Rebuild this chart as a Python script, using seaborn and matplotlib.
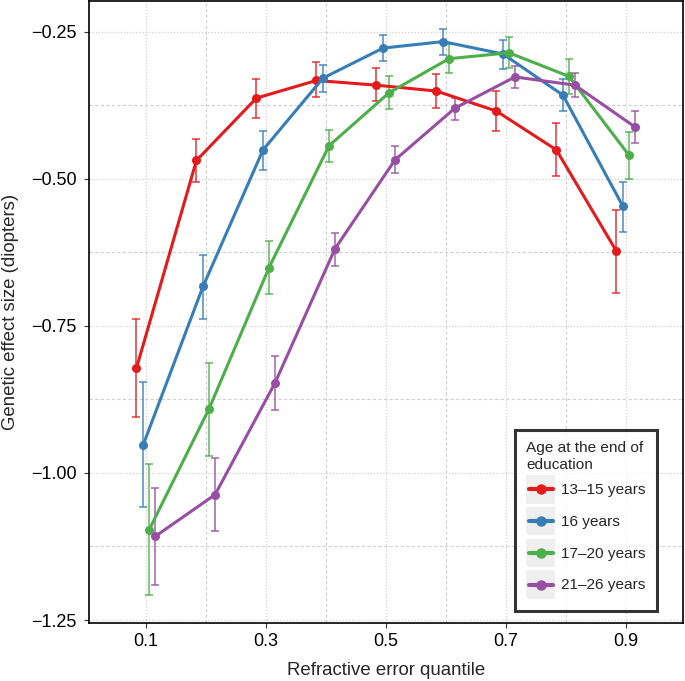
import numpy as np
import pandas as pd
import matplotlib
matplotlib.use('Agg')
import matplotlib.pyplot as plt
from matplotlib.ticker import FixedLocator
from matplotlib.patches import Rectangle
from matplotlib.lines import Line2D
from matplotlib.legend_handler import HandlerBase
import seaborn as sns

sns.set_style("white")
plt.rcParams['font.family'] = ['Liberation Sans', 'DejaVu Sans']

# %% data
quantiles = [0.1, 0.2, 0.3, 0.4, 0.5, 0.6, 0.7, 0.8, 0.9]
groups = ['13\u201315 years', '16 years', '17\u201320 years', '21\u201326 years']

eff_13_15 = [-0.822, -0.469, -0.363, -0.333, -0.341, -0.351, -0.385, -0.451, -0.623]
low_13_15 = [-0.905, -0.506, -0.397, -0.361, -0.368, -0.380, -0.419, -0.496, -0.694]
up_13_15 = [-0.738, -0.433, -0.330, -0.302, -0.312, -0.322, -0.351, -0.406, -0.553]

eff_16 = [-0.953, -0.683, -0.451, -0.329, -0.278, -0.267, -0.288, -0.358, -0.547]
low_16 = [-1.058, -0.738, -0.486, -0.352, -0.300, -0.290, -0.313, -0.385, -0.590]
up_16 = [-0.846, -0.630, -0.419, -0.307, -0.256, -0.245, -0.265, -0.330, -0.505]

eff_17_20 = [-1.097, -0.891, -0.651, -0.444, -0.354, -0.296, -0.286, -0.326, -0.460]
low_17_20 = [-1.208, -0.971, -0.696, -0.471, -0.381, -0.321, -0.312, -0.356, -0.500]
up_17_20 = [-0.985, -0.813, -0.606, -0.418, -0.325, -0.271, -0.259, -0.297, -0.420]

eff_21_26 = [-1.108, -1.037, -0.847, -0.619, -0.468, -0.380, -0.327, -0.341, -0.412]
low_21_26 = [-1.190, -1.099, -0.893, -0.649, -0.490, -0.400, -0.346, -0.361, -0.440]
up_21_26 = [-1.026, -0.975, -0.801, -0.592, -0.445, -0.363, -0.308, -0.320, -0.385]

colors = ['#E41A1C', '#377EB8', '#4DAF4A', '#984EA3']
dodge = [-0.016, -0.005, 0.005, 0.015]

# %% long table
effs = [eff_13_15, eff_16, eff_17_20, eff_21_26]
lows = [low_13_15, low_16, low_17_20, low_21_26]
ups = [up_13_15, up_16, up_17_20, up_21_26]
frames = []
for g, e, lo, hi, d in zip(groups, effs, lows, ups, dodge):
    frames.append(pd.DataFrame({'quantile': np.array(quantiles) + d,
                                'effect': e, 'low': lo, 'up': hi, 'group': g}))
df = pd.concat(frames, ignore_index=True)


# ggplot-like legend key: grey square, line and point centred in it
class KeyHandler(HandlerBase):
    def create_artists(self, legend, orig_handle, xdescent, ydescent,
                       width, height, fontsize, trans):
        c = orig_handle.get_color()
        x0, y0 = -xdescent, -ydescent
        yc = y0 + height / 2
        rect = Rectangle((x0, y0), width, height, facecolor='#efefef',
                         edgecolor='none', transform=trans)
        line = Line2D([x0 + 2, x0 + width - 2], [yc, yc], color=c,
                      linewidth=3, transform=trans)
        dot = Line2D([x0 + width / 2], [yc], marker='o', markersize=7.5,
                     markeredgewidth=0, color=c, linestyle='none',
                     transform=trans)
        return [rect, line, dot]


# %% plot
fig = plt.figure(figsize=(6.85, 6.81), dpi=100)
ax = fig.add_axes([0.130, 0.0852, 0.867, 0.9133])

for g, c in zip(groups, colors):
    sub = df[df['group'] == g]
    ax.errorbar(sub['quantile'], sub['effect'],
                yerr=[sub['effect'] - sub['low'], sub['up'] - sub['effect']],
                fmt='none', ecolor=c, alpha=0.75, elinewidth=1.3,
                capsize=3, capthick=1.3, zorder=2)

sns.lineplot(data=df, x='quantile', y='effect', hue='group',
             palette=colors, marker='o', markersize=6.5, markeredgewidth=0,
             linewidth=2.2, ax=ax, zorder=3)

ax.set_xlim(0.005, 0.995)
ax.set_ylim(-1.255, -0.198)
ax.xaxis.set_major_locator(FixedLocator([0.1, 0.3, 0.5, 0.7, 0.9]))
ax.xaxis.set_minor_locator(FixedLocator([0.2, 0.4, 0.6, 0.8]))
ax.yaxis.set_major_locator(FixedLocator([-1.25, -1.0, -0.75, -0.5, -0.25]))
ax.yaxis.set_minor_locator(FixedLocator([-1.125, -0.875, -0.625, -0.375]))
ax.set_xticklabels(['0.1', '0.3', '0.5', '0.7', '0.9'])
ax.set_yticklabels(['\u22121.25', '\u22121.00', '\u22120.75', '\u22120.50', '\u22120.25'])

ax.grid(which='major', color='#d0d0d0', linestyle=(0, (1, 1.5)), linewidth=0.9)
ax.grid(which='minor', color='#d0d0d0', linestyle=(0, (3, 2)), linewidth=0.8)
ax.set_axisbelow(True)

for s in ax.spines.values():
    s.set_color('black')
    s.set_linewidth(1.2)
ax.tick_params(which='major', direction='out', length=3.5, width=0.8, pad=4,
               color='#333333', labelsize=13, labelcolor='black',
               left=True, bottom=True)
ax.tick_params(axis='y', which='major', pad=5.5)
ax.tick_params(which='minor', length=0)

ax.set_xlabel('Refractive error quantile', fontsize=13.4, labelpad=8)
ax.set_ylabel('Genetic effect size (diopters)', fontsize=13.4)
ax.yaxis.set_label_coords(-0.118, 0.5)

# legend
handles, labels = ax.get_legend_handles_labels()
leg = ax.legend(handles, labels, title='Age at the end of\neducation',
                loc='lower right', bbox_to_anchor=(0.956, 0.02),
                borderaxespad=0,
                handler_map={Line2D: KeyHandler()},
                fontsize=11.1, title_fontsize=11.1, frameon=True,
                fancybox=False, edgecolor='black', handlelength=1.9,
                handleheight=2.47, handletextpad=0.35,
                labelspacing=0.21, borderpad=0.75)
leg.get_frame().set_linewidth(2.2)
leg._legend_box.align = 'left'
leg.get_title().set_linespacing(1.25)

plt.savefig('out.png', dpi=100)
